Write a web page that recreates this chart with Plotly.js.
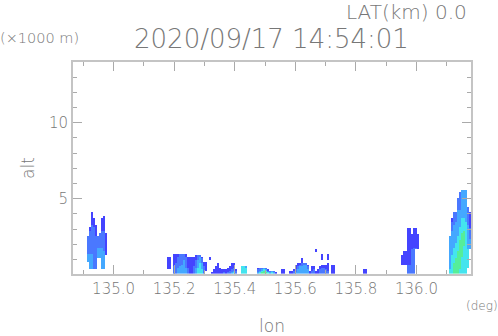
<!DOCTYPE html>
<html><head><meta charset="utf-8">
<script src="https://cdn.plot.ly/plotly-3.0.1.min.js"></script>
<style>html,body{margin:0;padding:0;background:#fff}#c{width:498px;height:336px}</style>
</head><body><div id="c"></div>
<script>
// columns: [lon, base km, level1 top, level2 top, level3 top, level4 top, level5 top, level5 base] (0 = level absent)
const echoWest = [
 [134.916,.85,2.56,2.56,1.30,0,0],[134.922,.31,3.09,2.82,1.37,0,0],[134.929,.31,4.08,3.28,1.30,0,0],
 [134.936,.31,3.75,3.09,0,0,0],[134.942,.31,3.2,2.56,0,0,0],[134.949,1.1,2.56,2.56,1.7,0,0],
 [134.955,1.1,2.7,2.7,1.77,0,0],[134.962,.31,3.75,2.82,1.77,0,0],[134.969,.31,3.81,2.82,1.5,0,0],
 [134.975,1.25,2.7,0,0,0,0]];
const echoNear = [
 [135.180,.31,1.11,0,0,0,0],[135.186,.31,1.11,0,0,0,0],[135.200,.05,1.3,.5,0,0,0],[135.206,.05,1.3,.7,0,0,0],
 [135.213,.05,1.3,1.1,.4,0,0],[135.219,.05,1.3,1.3,.5,0,0],[135.226,.05,1.3,1.3,.6,0,0],[135.233,.05,1.3,1.3,.9,0,0],
 [135.239,.05,1.3,1.1,.4,0,0],[135.246,.05,1.11,.4,0,0,0],[135.252,.05,1.11,0,0,0,0],[135.259,.05,1.11,0,0,0,0],
 [135.266,.05,1.11,.5,0,0,0],[135.272,.05,1.2,.9,.4,0,0],[135.279,.05,1.2,1.2,.9,.4,0],[135.285,.05,1.2,1.2,1.1,.75,0],
 [135.292,.05,1.1,1,.7,.3,0],[135.299,.05,.84,.5,0,0,0],[135.305,.3,.84,0,0,0,0],[135.318,.95,1.1,0,0,0,0],
 [135.325,.05,.18,0,0,0,0],[135.332,.05,.31,0,0,0,0],[135.338,.05,.5,0,0,0,0],[135.345,.05,.7,0,0,0,0],
 [135.351,.05,.45,0,0,0,0],[135.358,.05,.35,0,0,0,0],[135.365,.05,.31,.1,0,0,0],[135.371,.05,.31,0,0,0,0],
 [135.378,.05,.4,.1,0,0,0],[135.384,.05,.55,.2,0,0,0],[135.391,.05,.75,.3,.15,0,0],[135.398,.05,.7,.4,.25,.15,0],
 [135.404,.05,.31,.2,0,0,0],[135.424,.05,.55,.55,.55,.55,0],[135.431,.05,.55,.55,.55,.55,0],[135.437,.05,.55,.55,.55,.4,0]];
const echoCentre = [
 [135.477,.05,.4,.3,.15,0,0],[135.483,.05,.45,.4,.25,.1,0],[135.490,.05,.45,.45,.3,.2,.1],[135.497,.05,.45,.45,.4,.3,.2],
 [135.503,.05,.4,.4,.3,.25,.15],[135.510,.05,.3,.25,.15,.1,0],[135.516,.05,.25,.2,.15,0,0],[135.523,.05,.25,.25,.2,.1,0],
 [135.530,.05,.2,.2,.1,0,0],[135.536,.05,.15,0,0,0,0],[135.556,.05,.31,0,0,0,0],[135.562,.05,.31,0,0,0,0]];
const echoEast = [
 [135.582,.05,.2,0,0,0,0],[135.589,.05,.25,0,0,0,0],[135.596,.05,.3,.2,0,0,0],[135.602,.05,.6,.3,.1,0,0],
 [135.609,.05,.75,.5,.3,0,0],[135.615,.05,.75,.6,.5,0,0],[135.622,.05,1.0,.7,.55,0,0],[135.629,.05,.7,.7,.6,0,0],
 [135.635,.05,.7,.7,.6,0,0],[135.642,.05,.65,.55,.35,0,0],[135.648,.05,.2,0,0,0,0],[135.655,.05,.55,.2,0,0,0],
 [135.662,.05,.55,.3,0,0,0],[135.668,.05,.25,0,0,0,0],[135.675,.05,.35,0,0,0,0],[135.681,.05,.55,.3,0,0,0],
 [135.688,.05,.6,.4,0,0,0],[135.695,.05,.6,.45,0,0,0],[135.701,.05,.6,.3,0,0,0],[135.708,.05,.75,.2,0,0,0],
 [135.721,.05,.65,0,0,0,0],[135.728,.05,.65,0,0,0,0],[135.827,.05,.31,0,0,0,0],[135.833,.05,.31,0,0,0,0]];
const echoAloft = [
 [135.668,1.45,1.6,0,0,0,0],[135.688,.95,1.3,0,0,0,0],[135.708,.95,1.3,0,0,0,0]];
const echoRidge = [
 [135.952,.64,1.2,0,0,0,0],[135.959,.64,1.57,0,0,0,0],[135.965,.64,1.57,0,0,0,0],[135.972,.05,3.02,.64,0,0,0],
 [135.978,.05,3.02,.64,0,0,0],[135.985,.05,2.62,1.63,0,0,0],[135.992,.05,3.02,1.77,0,0,0],[135.998,1.63,3.02,1.77,0,0,0],
 [136.005,1.63,2.62,0,0,0,0]];
const echoCell = [
 [136.114,.05,2.56,2.56,2.56,.3,0],[136.120,.05,3.75,3.48,2.82,1.2,0],[136.127,.05,4.08,4.08,3.28,1.7,.7],
 [136.134,.05,4.14,4.14,3.48,2.0,1.0],[136.140,.05,5.07,5.07,4.2,2.5,1.5,.1],[136.147,.05,5.46,5.46,4.27,3.1,2.2,.4],
 [136.153,.05,5.53,5.53,5.53,3.75,2.7,1.2],[136.160,.05,5.53,5.53,5.53,3.75,2.8,1.9],[136.167,.05,5.53,5.53,5.53,3.4,0],
 [136.173,.45,4.47,4.47,3.28,1.6,0],[136.180,1.63,4.14,3.0,2.29,0,0]];
const levelColors = ['#4444ff','#4a78ff','#44a8ff','#44e4ee','#55ee99'];
const lonTicks = [135.0,135.2,135.4,135.6,135.8,136.0];
const lonLabels = ['135.0','135.2','135.4','135.6','135.8','136.0'];
const altTicks = [5,10];

const step = 2/303, lon0 = 134.87, nx = 200, ny = 70, dy = 0.1;
const xs = Array.from({length:nx},(_, i)=>lon0+i*step);
const ys = Array.from({length:ny},(_, j)=>0.1+j*dy);
const z = ys.map(()=>xs.map(()=>null));
[echoWest,echoNear,echoCentre,echoEast,echoAloft,echoRidge,echoCell].forEach(group=>group.forEach(col=>{
  const i = Math.round((col[0]-lon0)/step);
  ys.forEach((y,j)=>{
    if (y < col[1]) return;
    for (let k=5;k>=1;k--) {
      if (k===5 && col[7] && y < col[7]) continue;
      if (col[k+1] && y <= col[k+1]+0.02) { z[j][i]=k; break; }
    }
  });
}));
const cs = [];
levelColors.forEach((c,k)=>{cs.push([k/5,c]);cs.push([(k+1)/5,c]);});
const gray='#777', line='#c4c4c4', fam='"DejaVu Sans Light","DejaVu Sans",sans-serif';
const ax = {showgrid:false,zeroline:false,showline:true,linecolor:line,linewidth:2,mirror:'allticks',
  ticks:'inside',tickcolor:'#aaa',tickwidth:1,tickfont:{family:fam,size:15,color:gray}};
const note=(text,x,y,size,anchor)=>({text,x,y,xref:'paper',yref:'paper',xanchor:anchor||'left',yanchor:'middle',
  showarrow:false,font:{family:fam,size,color:gray}});
const W=398,H=212,L=73,T=62;
const px=p=>(p-L)/W, py=p=>1-(p-T)/H;
Plotly.newPlot('c',[{type:'heatmap',x:xs,y:ys,z,zmin:0.5,zmax:5.5,zauto:false,colorscale:cs,showscale:false,hoverongaps:false}],{
  width:498,height:336,margin:{l:L,r:27,t:T,b:62},paper_bgcolor:'#fff',plot_bgcolor:'#fff',
  xaxis:Object.assign({},ax,{range:[134.866,136.18],tickvals:lonTicks,ticktext:lonLabels,ticklen:9,
    minor:{dtick:0.1,ticks:'inside',ticklen:4,tickcolor:'#aaa',showgrid:false},
    title:{text:'lon',standoff:31,font:{family:fam,size:17,color:gray}}}),
  yaxis:Object.assign({},ax,{range:[0.05,14],tickvals:altTicks,ticktext:['5','10'],ticklen:9,
    minor:{dtick:1,ticks:'inside',ticklen:4,tickcolor:'#aaa',showgrid:false},
    title:{text:'alt',standoff:10,font:{family:fam,size:17,color:gray}}}),
  annotations:[
    note('LAT(km) 0.0',px(344),py(12),20),
    note('(×1000 m)',px(-2),py(38),14.5),
    note('2020/09/17 14:54:01',px(132),py(39),26),
    note('(deg)',px(464),py(306),12)
  ]
},{displayModeBar:false,staticPlot:true});
</script></body></html>
